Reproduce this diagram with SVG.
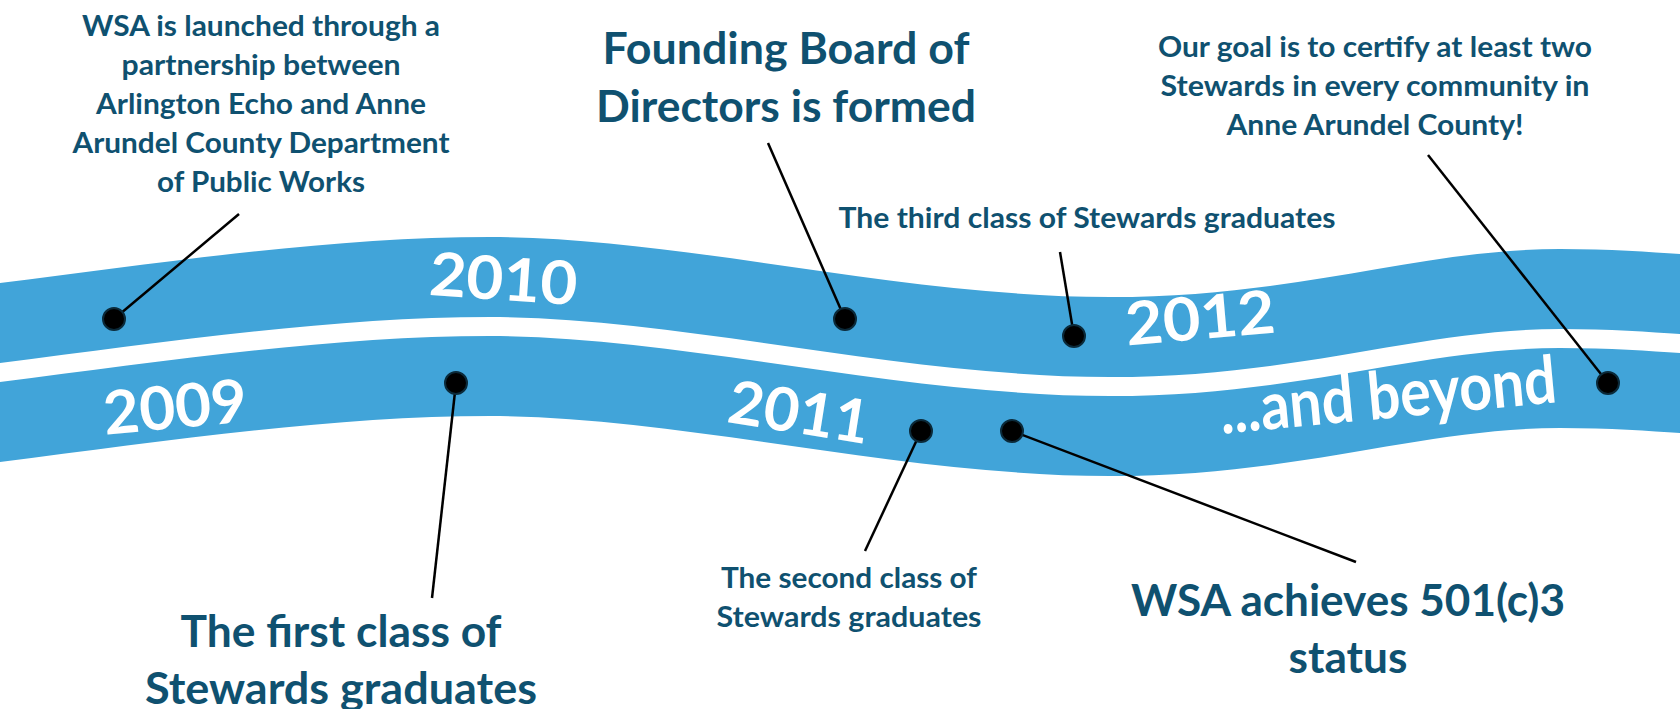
<svg xmlns="http://www.w3.org/2000/svg" xmlns:xlink="http://www.w3.org/1999/xlink" width="1680" height="709" viewBox="0 0 1680 709">
<style>
.band{fill:#41A4D9}
.yr{font-family:Lato,"Liberation Sans",sans-serif;font-weight:700;fill:#ffffff;text-anchor:middle}
.sm{font-family:Lato,"Liberation Sans",sans-serif;font-weight:700;font-size:29px;fill:#0F5170;text-anchor:middle}
.lg{font-family:Lato,"Liberation Sans",sans-serif;font-weight:700;font-size:43px;fill:#0F5170;text-anchor:middle}
.con{stroke:#000000;stroke-width:2.5;fill:none}
.dot{fill:#000000;stroke:#0B2A3A;stroke-width:2}
</style>
<defs>
<path id="wave" d="M0,283 C160,263 330,237 490,237 C680,237 900,297 1110,297 C1300,297 1420,249 1560,249 C1610,249 1650,252 1680,254 L1680,334 C1650,332 1610,329 1560,329 C1420,329 1300,377 1110,377 C900,377 680,317 490,317 C330,317 160,343 0,363 Z"/>
</defs>
<g id="bands">
<use xlink:href="#wave" href="#wave" class="band"/>
<use xlink:href="#wave" href="#wave" class="band" transform="translate(0,99)"/>
</g>
<g id="years">
<text class="yr" font-size="60" textLength="148" lengthAdjust="spacingAndGlyphs" transform="translate(502,300) rotate(4)">2010</text>
<text class="yr" font-size="60" textLength="150" lengthAdjust="spacingAndGlyphs" transform="translate(1202,339) rotate(-5)">2012</text>
<text class="yr" font-size="60" textLength="144" lengthAdjust="spacingAndGlyphs" transform="translate(177,428) rotate(-5.3)">2009</text>
<text class="yr" font-size="60" textLength="142" lengthAdjust="spacingAndGlyphs" transform="translate(796,433) rotate(9)">2011</text>
<text class="yr" font-size="66" textLength="338" lengthAdjust="spacingAndGlyphs" transform="translate(1390,418) rotate(-5.4)">...and beyond</text>
</g>
<g id="connectors">
<line class="con" x1="239" y1="214" x2="114" y2="319"/>
<line class="con" x1="768" y1="143" x2="845" y2="319"/>
<line class="con" x1="1060" y1="252" x2="1074" y2="336"/>
<line class="con" x1="1428" y1="155" x2="1608" y2="383"/>
<line class="con" x1="456" y1="383" x2="432" y2="598"/>
<line class="con" x1="921" y1="431" x2="865" y2="551"/>
<line class="con" x1="1012" y1="431" x2="1356" y2="562"/>
</g>
<g id="launch">
<text class="sm"><tspan x="261" y="36" textLength="358" lengthAdjust="spacingAndGlyphs">WSA is launched through a</tspan><tspan x="261" y="75" textLength="279" lengthAdjust="spacingAndGlyphs">partnership between</tspan><tspan x="261" y="114" textLength="330" lengthAdjust="spacingAndGlyphs">Arlington Echo and Anne</tspan><tspan x="261" y="153" textLength="377" lengthAdjust="spacingAndGlyphs">Arundel County Department</tspan><tspan x="261" y="192" textLength="208" lengthAdjust="spacingAndGlyphs">of Public Works</tspan></text>
<circle class="dot" cx="114" cy="319" r="11"/>
</g>
<g id="board">
<text class="lg"><tspan x="786" y="64" textLength="367" lengthAdjust="spacingAndGlyphs">Founding Board of</tspan><tspan x="786" y="122" textLength="380" lengthAdjust="spacingAndGlyphs">Directors is formed</tspan></text>
<circle class="dot" cx="845" cy="319" r="11"/>
</g>
<g id="third-class">
<text class="sm" x="1087" y="228" textLength="497" lengthAdjust="spacingAndGlyphs">The third class of Stewards graduates</text>
<circle class="dot" cx="1074" cy="336" r="11"/>
</g>
<g id="goal">
<text class="sm"><tspan x="1375" y="57" textLength="434" lengthAdjust="spacingAndGlyphs">Our goal is to certify at least two</tspan><tspan x="1375" y="96" textLength="429" lengthAdjust="spacingAndGlyphs">Stewards in every community in</tspan><tspan x="1375" y="135" textLength="297" lengthAdjust="spacingAndGlyphs">Anne Arundel County!</tspan></text>
<circle class="dot" cx="1608" cy="383" r="11"/>
</g>
<g id="first-class">
<text class="lg"><tspan x="341" y="647" textLength="321" lengthAdjust="spacingAndGlyphs">The first class of</tspan><tspan x="341" y="704" textLength="392" lengthAdjust="spacingAndGlyphs">Stewards graduates</tspan></text>
<circle class="dot" cx="456" cy="383" r="11"/>
</g>
<g id="second-class">
<text class="sm"><tspan x="849" y="588" textLength="256" lengthAdjust="spacingAndGlyphs">The second class of</tspan><tspan x="849" y="627" textLength="265" lengthAdjust="spacingAndGlyphs">Stewards graduates</tspan></text>
<circle class="dot" cx="921" cy="431" r="11"/>
</g>
<g id="nonprofit">
<text class="lg"><tspan x="1348" y="616" textLength="434" lengthAdjust="spacingAndGlyphs">WSA achieves 501(c)3</tspan><tspan x="1348" y="673" textLength="119" lengthAdjust="spacingAndGlyphs">status</tspan></text>
<circle class="dot" cx="1012" cy="431" r="11"/>
</g>
</svg>
